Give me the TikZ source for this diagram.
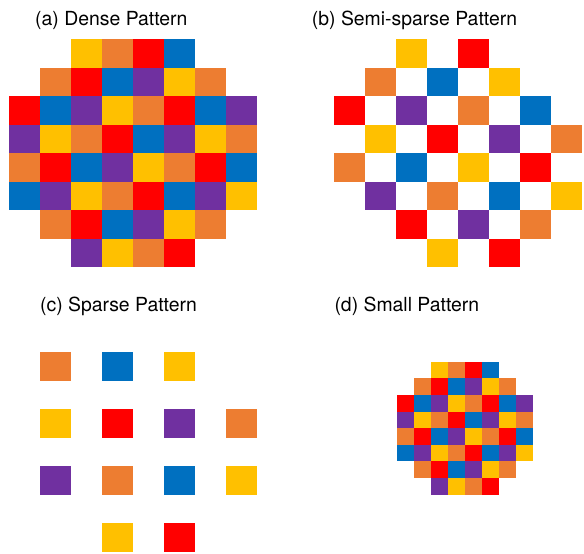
\documentclass[tikz,border=0pt]{standalone}
\usepackage{fontspec}
\setmainfont{TeX Gyre Heros}
\usepackage{xcolor}
\usepackage{tikz}
\definecolor{pYellow}{HTML}{FFC000}
\definecolor{pOrange}{HTML}{ED7D31}
\definecolor{pRed}{HTML}{FF0000}
\definecolor{pBlue}{HTML}{0070C0}
\definecolor{pPurple}{HTML}{7030A0}
\tikzset{
  pttitle/.style={anchor=base west, inner sep=0pt, font=\fontsize{19.4}{22}\selectfont},
  ptbig/.style={x=31pt, y=-28.5pt},
  ptsmall/.style={x=17.08pt, y=-16.6pt}
}
% one colour layout, shared by all four panels
\def\ptrows{
  {none,none,pYellow,pOrange,pRed,pBlue,none,none},
  {none,pOrange,pRed,pBlue,pPurple,pYellow,pOrange,none},
  {pRed,pBlue,pPurple,pYellow,pOrange,pRed,pBlue,pPurple},
  {pPurple,pYellow,pOrange,pRed,pBlue,pPurple,pYellow,pOrange},
  {pOrange,pRed,pBlue,pPurple,pYellow,pOrange,pRed,pBlue},
  {pBlue,pPurple,pYellow,pOrange,pRed,pBlue,pPurple,pYellow},
  {none,pOrange,pRed,pBlue,pPurple,pYellow,pOrange,none},
  {none,none,pPurple,pYellow,pOrange,pRed,none,none}}

\begin{document}
\begin{tikzpicture}[x=1pt, y=-1pt]
  \useasboundingbox (0,0) rectangle (584,554);

  \node[pttitle] (titleA) at (35,25) {(a) Dense Pattern};
  \node[pttitle] (titleB) at (311.7,25) {(b) Semi-sparse Pattern};
  \node[pttitle] (titleC) at (40,311.7) {(c) Sparse Pattern};
  \node[pttitle] (titleD) at (334.3,311.7) {(d) Small Pattern};

  % (a) every cell
  \begin{scope}[shift={(9pt,-39.3pt)}, ptbig]
    \foreach \row [count=\r from 0] in \ptrows {
      \foreach \col [count=\c from 0] in \row {
        \path[fill=\col] (\c,\r) rectangle ++(1,1);
      }
    }
  \end{scope}

  % (b) checkerboard
  \begin{scope}[shift={(334.3pt,-39.3pt)}, ptbig]
    \foreach \row [count=\r from 0] in \ptrows {
      \foreach \col [count=\c from 0] in \row {
        \pgfmathtruncatemacro\keep{mod(\r+\c,2)==0}
        \ifnum\keep=1 \path[fill=\col] (\c,\r) rectangle ++(1,1); \fi
      }
    }
  \end{scope}

  % (c) odd rows and odd columns
  \begin{scope}[shift={(9pt,-323.8pt)}, ptbig]
    \foreach \row [count=\r from 0] in \ptrows {
      \foreach \col [count=\c from 0] in \row {
        \pgfmathtruncatemacro\keep{and(mod(\r,2)==1, mod(\c,2)==1)}
        \ifnum\keep=1 \path[fill=\col] (\c,\r) rectangle ++(1,1); \fi
      }
    }
  \end{scope}

  % (d) same as (a), smaller cells
  \begin{scope}[shift={(396.7pt,-361.7pt)}, ptsmall]
    \foreach \row [count=\r from 0] in \ptrows {
      \foreach \col [count=\c from 0] in \row {
        \path[fill=\col] (\c,\r) rectangle ++(1,1);
      }
    }
  \end{scope}
\end{tikzpicture}
\end{document}
